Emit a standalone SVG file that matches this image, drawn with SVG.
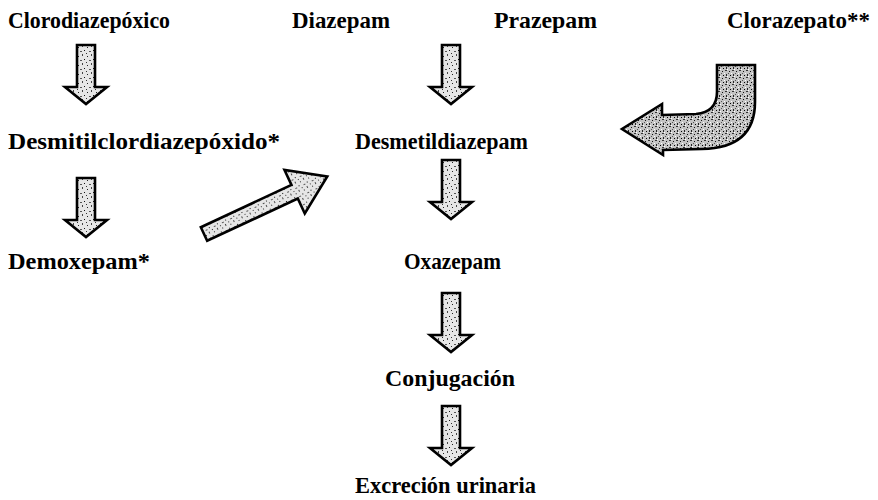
<svg xmlns="http://www.w3.org/2000/svg" xmlns:xlink="http://www.w3.org/1999/xlink" width="878" height="500" viewBox="0 0 878 500">
<style>
.t{font-family:"Liberation Serif","Times New Roman","DejaVu Serif",serif;font-weight:bold;font-size:23px;fill:#000}
.arr{stroke:#000;stroke-width:2.6;stroke-linejoin:miter}
.lite{fill:url(#stip)}
.dark{fill:url(#stip2)}
</style>
<defs>
<pattern id="stip" width="9" height="9" patternUnits="userSpaceOnUse">
<rect width="9" height="9" fill="#e6e6e6"/>
<rect x="1" y="2" width="1" height="1" fill="#222"/>
<rect x="5" y="0" width="1" height="2" fill="#444"/>
<rect x="7" y="5" width="1" height="1" fill="#111"/>
<rect x="3" y="6" width="2" height="1" fill="#555"/>
<rect x="0" y="8" width="1" height="1" fill="#333"/>
</pattern>
<pattern id="stip2" width="7" height="7" patternUnits="userSpaceOnUse">
<rect width="7" height="7" fill="#c4c4c4"/>
<rect x="1" y="1" width="1" height="1" fill="#111"/>
<rect x="4" y="0" width="2" height="1" fill="#333"/>
<rect x="5" y="4" width="1" height="2" fill="#222"/>
<rect x="2" y="5" width="1" height="1" fill="#000"/>
<rect x="0" y="3" width="1" height="1" fill="#555"/>
<rect x="3" y="3" width="1" height="1" fill="#fff"/>
<rect x="6" y="6" width="1" height="1" fill="#fff"/>
</pattern>
<path id="down" d="M-9,0 L9,0 L9,42 L21,42 L0,59 L-21,42 L-9,42 Z"/>
</defs>

<g id="connectors">
<use xlink:href="#down" href="#down" class="arr lite" x="86" y="45"/>
<use xlink:href="#down" href="#down" class="arr lite" x="451" y="45"/>
<use xlink:href="#down" href="#down" class="arr lite" x="86" y="178"/>
<use xlink:href="#down" href="#down" class="arr lite" x="451" y="160"/>
<use xlink:href="#down" href="#down" class="arr lite" x="451" y="293"/>
<use xlink:href="#down" href="#down" class="arr lite" x="451" y="406"/>
<path class="arr lite" transform="translate(204,234) rotate(-25)" d="M0,-7.5 L100,-7.5 L100,-24 L136,0 L100,24 L100,7.5 L0,7.5 Z"/>
<path class="arr dark" d="M717,65 L755,65 L755,102 Q755,148 702,149 L663,150 L663,155 L622,129 L662,104 L662,115 L696,114 Q717,112 717,92 Z"/>
</g>

<g id="n-clorodiazepoxico"><text class="t" x="8" y="28" textLength="162" lengthAdjust="spacingAndGlyphs">Clorodiazepóxico</text></g>
<g id="n-diazepam"><text class="t" x="292" y="28" textLength="98" lengthAdjust="spacingAndGlyphs">Diazepam</text></g>
<g id="n-prazepam"><text class="t" x="494" y="28" textLength="103" lengthAdjust="spacingAndGlyphs">Prazepam</text></g>
<g id="n-clorazepato"><text class="t" x="727" y="28" textLength="143" lengthAdjust="spacingAndGlyphs">Clorazepato**</text></g>
<g id="n-desmitilclordiazepoxido"><text class="t" x="8" y="149" textLength="272" lengthAdjust="spacingAndGlyphs">Desmitilclordiazepóxido*</text></g>
<g id="n-desmetildiazepam"><text class="t" x="355" y="149" textLength="173" lengthAdjust="spacingAndGlyphs">Desmetildiazepam</text></g>
<g id="n-demoxepam"><text class="t" x="8" y="269" textLength="142" lengthAdjust="spacingAndGlyphs">Demoxepam*</text></g>
<g id="n-oxazepam"><text class="t" x="404" y="269" textLength="97" lengthAdjust="spacingAndGlyphs">Oxazepam</text></g>
<g id="n-conjugacion"><text class="t" x="385" y="386" textLength="130" lengthAdjust="spacingAndGlyphs">Conjugación</text></g>
<g id="n-excrecion"><text class="t" x="355" y="493" textLength="181" lengthAdjust="spacingAndGlyphs">Excreción urinaria</text></g>
</svg>
